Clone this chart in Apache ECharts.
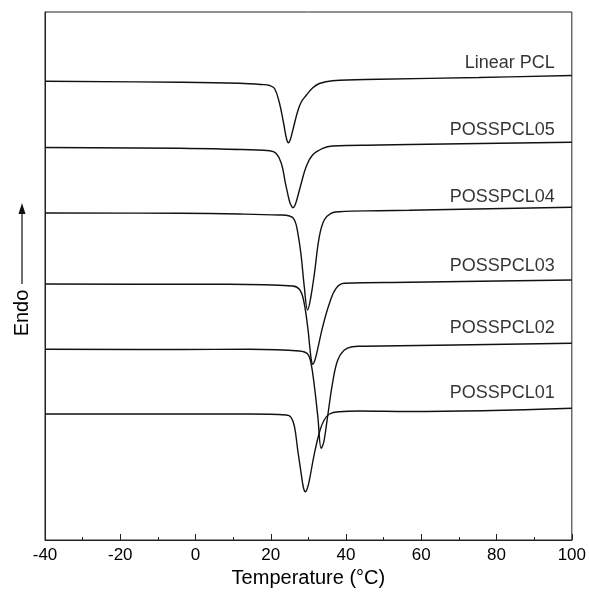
<!DOCTYPE html>
<html>
<head>
<meta charset="utf-8">
<script src="https://cdn.jsdelivr.net/npm/echarts@6/dist/echarts.min.js"></script>
<style>html,body{margin:0;padding:0;background:#fff}#chart{width:589px;height:596px}</style>
</head>
<body>
<div id="chart"></div>
<script>
// Temperature ticks (°C)
const xTicks = [-40, -20, 0, 20, 40, 60, 80, 100];
// Curve names (top to bottom)
const seriesNames = ['Linear PCL', 'POSSPCL05', 'POSSPCL04', 'POSSPCL03', 'POSSPCL02', 'POSSPCL01'];
// Heat flow (arbitrary units, stacked offsets) vs temperature
const linearPCL = [[-40,458.7],[-4.2,457.7],[11.7,456.7],[17.5,455.5],[19.7,454.5],[21.0,451.5],[22.3,437],[23.4,417],[24.2,401],[24.7,397.3],[25.2,400.5],[26.0,412],[27.1,428],[28.1,438],[29.4,444.5],[31.1,452],[32.9,456.5],[36.4,459.3],[48.8,460.7],[75.3,462.5],[100,464.5]];
const possPCL05 = [[-40,392.5],[-4.2,391.7],[9.0,390.7],[19.7,389.3],[21.4,386.7],[22.8,376.7],[23.9,356.7],[25.0,338.3],[25.5,334],[25.9,332.3],[26.4,334.5],[26.9,340],[28.1,356.7],[29.4,373.3],[31.1,385],[33.8,391.7],[36.4,394],[48.8,395],[56.8,395.5],[100,397.7]];
const possPCL04 = [[-40,327],[-4.2,326.7],[11.7,326],[22.3,325],[25.0,324],[26.3,320],[27.2,306.7],[28.1,283.3],[28.9,253.3],[29.8,230],[30.6,242],[31.6,266.7],[32.9,303.3],[34.2,320],[36.0,326.7],[38.2,328.3],[48.8,329.3],[56.8,329.8],[100,332.7]];
const possPCL03 = [[-40,256],[-4.2,255.7],[9.0,255.7],[25.8,254],[27.6,250.7],[28.7,240],[29.8,213.3],[30.45,190],[30.8,179.5],[31.14,175.7],[31.6,178.5],[32.2,186.7],[33.8,213.3],[35.6,236.7],[37.35,251.7],[39.55,256.7],[56.8,257.7],[100,260]];
const possPCL02 = [[-40,190.7],[-4.2,190.5],[14.4,190.7],[27.6,189],[29.8,186],[30.7,176.7],[31.6,153.3],[32.5,123.3],[33.4,91.7],[33.8,94.5],[34.2,100],[35.1,123.3],[36.4,156.7],[37.8,180],[39.55,190],[41.75,193.3],[43.5,193.8],[54.1,194.2],[100,196.7]];
const possPCL01 = [[-40,126],[-4.2,126],[14.4,126],[24.1,125],[25.4,122.7],[26.3,113.3],[27.16,90],[28.07,66.7],[28.7,52],[29.2,48.3],[29.7,51.5],[30.27,60],[31.6,86.7],[33.1,110],[34.2,120],[35.6,126],[38.2,128.3],[43.5,129],[56.8,128.5],[100,131.7]];
// Label anchor (right edge temperature, heat-flow level of each label)
const labelT = 95.5;
const labelH = [477, 410, 343.3, 274.3, 212.3, 146.7];

const curves = [linearPCL, possPCL05, possPCL04, possPCL03, possPCL02, possPCL01];
const FONT = 'Liberation Sans, Arial, sans-serif';
const chart = echarts.init(document.getElementById('chart'), null, {renderer: 'canvas'});

const series = curves.map((d, i) => ({
  name: seriesNames[i],
  type: 'line',
  data: d,
  smooth: 0.4,
  showSymbol: false,
  silent: true,
  lineStyle: {color: '#111', width: 1.4},
  z: 3
}));
series.push({
  type: 'scatter',
  silent: true,
  symbolSize: 0,
  data: seriesNames.map((n, i) => [labelT, labelH[i], n]),
  label: {
    show: true,
    position: 'left',
    distance: 0,
    formatter: p => p.data[2],
    color: '#000',
    fontSize: 18,
    fontFamily: FONT
  }
});

chart.setOption({
  animation: false,
  backgroundColor: '#fff',
  grid: {left: 45, right: 16, top: 12, bottom: 56, show: true, borderColor: '#222', borderWidth: 1, backgroundColor: 'transparent'},
  xAxis: {
    type: 'value',
    min: xTicks[0],
    max: xTicks[xTicks.length - 1],
    interval: 20,
    name: 'Temperature (°C)',
    nameLocation: 'middle',
    nameGap: 28,
    nameTextStyle: {fontSize: 20, color: '#000', fontFamily: FONT},
    axisLine: {show: true, onZero: false, lineStyle: {color: '#222', width: 1}},
    axisTick: {show: true, inside: true, length: 6, lineStyle: {color: '#222'}},
    minorTick: {show: true, splitNumber: 2, length: 3, lineStyle: {color: '#222'}},
    axisLabel: {fontSize: 17, color: '#000', fontFamily: FONT, margin: 7},
    splitLine: {show: false}
  },
  yAxis: {
    type: 'value',
    min: 0,
    max: 528,
    axisLine: {show: true, onZero: false, lineStyle: {color: '#222', width: 1}},
    axisTick: {show: false},
    axisLabel: {show: false},
    splitLine: {show: false}
  },
  graphic: [
    {type: 'text', x: 22, y: 313, rotation: Math.PI / 2,
     style: {text: 'Endo', fontSize: 20, fontFamily: FONT, fill: '#000', align: 'center', verticalAlign: 'middle'}},
    {type: 'line', shape: {x1: 22, y1: 284, x2: 22, y2: 212}, style: {stroke: '#111', lineWidth: 1.2}},
    {type: 'polygon', shape: {points: [[22, 203], [18.5, 214], [25.5, 214]]}, style: {fill: '#111'}}
  ],
  series: series
});
</script>
</body>
</html>
